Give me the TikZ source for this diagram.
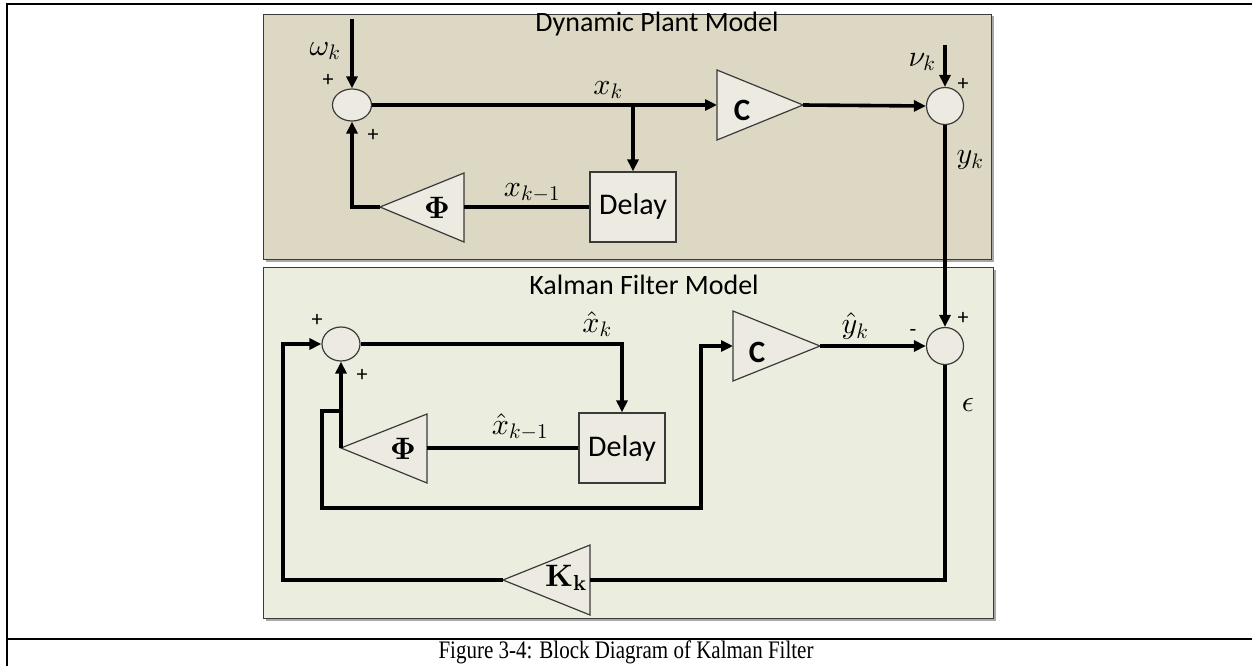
\documentclass[tikz,border=0pt]{standalone}
\usepackage[no-math]{fontspec}
\setmainfont{Carlito}
\newfontfamily\capfont{Liberation Serif}
\DeclareFontShape{OML}{cmm}{m}{it}{<->cmmi10}{}
\DeclareFontShape{OML}{cmm}{b}{it}{<->cmmib10}{}
\DeclareFontShape{OMS}{cmsy}{m}{n}{<->cmsy10}{}
\DeclareFontShape{OT1}{cmr}{m}{n}{<->cmr10}{}
\DeclareFontShape{OT1}{cmr}{bx}{n}{<->cmbx10}{}
\DeclareFontShape{OMX}{cmex}{m}{n}{<->cmex10}{}
\usetikzlibrary{arrows.meta,shapes.geometric}
\definecolor{plantbg}{HTML}{DDD8C4}
\definecolor{kfbg}{HTML}{EBEEDF}
\definecolor{blockfill}{HTML}{EDEBE1}
\definecolor{edgec}{HTML}{3A3A3A}
\definecolor{shadowc}{HTML}{A8A8A8}
\tikzset{
  sig/.style={line width=3.6pt, line join=miter},
  arr/.style={sig, -{Triangle[length=12pt,width=11pt]}},
  blk/.style={draw=edgec, line width=1.2pt, fill=blockfill},
  sumnode/.style={blk, ellipse, inner sep=0pt},
  delaybox/.style={blk, rectangle, inner sep=0pt, minimum width=86pt, minimum height=70pt, font=\fontsize{30}{32}\selectfont},
  ttl/.style={font=\fontsize{28}{30}\selectfont},
  mlab/.style={font=\fontsize{30}{33}\selectfont},
  pm/.style={font=\fontsize{22}{24}\selectfont},
  gainC/.style={font=\fontsize{31}{33}\selectfont\bfseries},
  gainS/.style={font=\fontsize{31}{33}\selectfont},
  panel/.style={draw=edgec, line width=0.9pt},
  frame/.style={line width=2.4pt}
}
\begin{document}
\begin{tikzpicture}[x=1pt,y=-1pt]
\useasboundingbox (0,0) rectangle (1252,666);
% outer frame
\draw[frame] (6,4) -- (1252,4);
\draw[frame] (7,3) -- (7,666);
\draw[frame] (7,639) -- (1252,639);
\node[font=\capfont\fontsize{21}{24}\selectfont] (cap) at (626,652) {\scalebox{1}[1.2]{Figure 3-4: Block Diagram of Kalman Filter}};
% panels
\fill[shadowc] (265.5,16.5) rectangle (993.5,261.5);
\draw[panel, fill=plantbg] (263,14) rectangle (991,259);
\fill[shadowc] (265.5,269.5) rectangle (995.5,620.5);
\draw[panel, fill=kfbg] (263,267) rectangle (993,618);
\node[ttl] (t1) at (657,24) {Dynamic Plant Model};
\node[ttl] (t2) at (644,285) {Kalman Filter Model};

% ---------- plant ----------
\node[sumnode, minimum width=39pt, minimum height=32pt] (s1) at (352,105) {};
\node[sumnode, minimum width=37pt, minimum height=37pt] (s2) at (945,106) {};
\node[delaybox] (d1) at (633,207) {Delay};
\draw[blk] (717,70) -- (803,105) coordinate (c1o) -- (717,140) -- cycle;
\coordinate (c1i) at (717,105);
\node[gainC] (c1t) at (742,110) {C};
\draw[blk] (464,173) -- (380,207) coordinate (p1o) -- (464,242) -- cycle;
\coordinate (p1i) at (464,207);
\node[gainS] (p1t) at (437,208) {$\mathbf{\Phi}$};

\coordinate (w) at (352,19);
\coordinate (v) at (945,45);
\coordinate (br1) at (633,105);
\draw[arr] (w) -- (s1.north);
\draw[arr] (v) -- (s2.north);
\draw[arr] (s1.east) -- (c1i);
\draw[arr] (br1) -- (d1.north);
\draw[arr] (c1o) -- (s2.west);
\draw[sig] (d1.west) -- (p1i);
\draw[arr] (p1o) -| (s1.south);

\node[mlab] (lw) at (325,51) {$\omega_k$};
\node[pm] (pl1) at (328,80) {+};
\node[pm] (pl2) at (373,135) {+};
\node[mlab] (lx) at (608,90) {$x_k$};
\node[mlab] (lx1) at (532,193) {$x_{k-1}$};
\node[mlab] (lv) at (922,62) {$\nu_k$};
\node[pm] (pl3) at (963,84) {+};
\node[mlab] (ly) at (970,160) {$y_k$};

% ---------- Kalman filter ----------
\node[sumnode, minimum width=38pt, minimum height=34pt] (s3) at (341,344) {};
\node[sumnode, minimum width=37pt, minimum height=37pt] (s4) at (945,346) {};
\node[delaybox] (d2) at (622,448) {Delay};
\draw[blk] (733,311) -- (820,346) coordinate (c2o) -- (733,381) -- cycle;
\coordinate (c2i) at (733,346);
\node[gainC] (c2t) at (757,352) {C};
\draw[blk] (427,414) -- (341,448) coordinate (p2o) -- (427,483) -- cycle;
\coordinate (p2i) at (427,448);
\node[gainS] (p2t) at (403,449) {$\mathbf{\Phi}$};
\draw[blk] (590,545) -- (503,580) coordinate (ko) -- (590,615) -- cycle;
\coordinate (ki) at (590,580);
\node[gainS] (kt) at (566,578) {$\mathbf{K}_{\mathbf{k}}$};

\coordinate (br2) at (341,411);
\draw[arr] (s2.south) -- (s4.north);
\draw[arr] (s3.east) -| (d2.north);
\draw[sig] (d2.west) -- (p2i);
\draw[arr] (p2o) -- (s3.south);
\draw[arr] (br2) -- (322,411) -- (322,508) -- (701,508) |- (c2i);
\draw[arr] (c2o) -- (s4.west);
\draw[sig] (s4.south) |- (ki);
\draw[arr] (ko) -- (283,580) |- (s3.west);

\node[pm] (pl4) at (317,320) {+};
\node[pm] (pl5) at (362,375) {+};
\node[mlab] (lxh) at (597,324) {$\hat{x}_k$};
\node[mlab] (lxh1) at (520,427) {$\hat{x}_{k-1}$};
\node[mlab] (lyh) at (855,326) {$\hat{y}_k$};
\node[pm] (mn) at (913,333) {-};
\node[pm] (pl6) at (963,318) {+};
\node[mlab] (le) at (968,405) {$\epsilon$};
\end{tikzpicture}
\end{document}
